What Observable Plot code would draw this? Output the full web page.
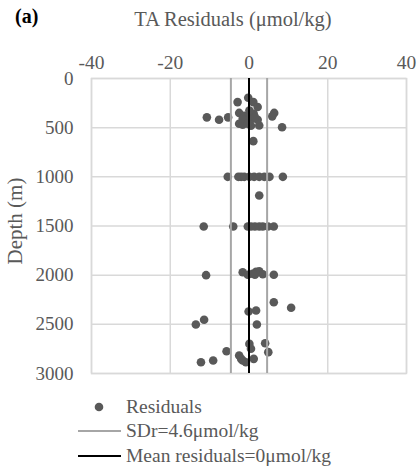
<!DOCTYPE html>
<html>
<head>
<meta charset="utf-8">
<script src="https://cdn.jsdelivr.net/npm/d3@7"></script>
<script src="https://cdn.jsdelivr.net/npm/@observablehq/plot@0.6"></script>
<style>
  html, body { margin: 0; padding: 0; background: #fff; }
  body { width: 419px; height: 471px; position: relative; overflow: hidden; font-family: 'Liberation Serif', serif; color: #595959; }
  #chart { position: absolute; left: 0; top: 0; }
  .abs { position: absolute; white-space: nowrap; font-family: 'Liberation Serif', serif; }
  #panel { left: 15px; top: 5px; font-size: 20px; font-weight: 700; color: #000; }
  #xtitle { left: 233px; top: 8px; transform: translateX(-50%); font-size: 20.5px; }
  #ytitle { left: 15px; top: 221px; transform: translate(-50%, -50%) rotate(-90deg); font-size: 21px; }
  .leg { position: absolute; left: 0; font-size: 19.5px; line-height: 1; font-family: 'Liberation Serif', serif; }
  .leg svg { position: absolute; left: 0; top: 0; }
  .leg span { position: absolute; left: 126px; white-space: nowrap; }
</style>
</head>
<body>
<div id="chart"></div>
<div class="abs" id="panel">(a)</div>
<div class="abs" id="xtitle">TA Residuals (μmol/kg)</div>
<div class="abs" id="ytitle">Depth (m)</div>
<div id="legend"></div>
<script>
// ---- data ----
const xTicks = [-40, -20, 0, 20, 40];
const yTicks = [0, 500, 1000, 1500, 2000, 2500, 3000];
const sdr = 4.6;
const meanResidual = 0;

const residual = [
  -10.7, -7.6, -5.3, -2.9, -0.2, 1.1, 2.2, -2.5, -1.2, 0.1, 1.2, 6.4, 5.9, 8.4, -2.5, -1.6, 0.5, 2.6, -0.8, 0.9, 2.2, -1.6, 1.1, -0.3, 1.5,
  -5.4, -2.7, -2.0, -1.2, 0.1, 1.3, 2.6, 3.9, 5.2, 8.6,
  2.6,
  -11.5, -4.0, -0.3, 0.5, 1.5, 2.6, 3.5, 4.8, 6.3,
  -10.9, -1.6, -0.3, 0.9, 1.8, 2.6, 3.5, 6.3, 1.5,
  6.3, 10.7, -0.1, 1.8, -11.4, -13.5, 2.0,
  -12.2, -9.1, -5.7, -2.5, -1.6, -0.8, 0.1, 0.5, 1.2, 4.1, 4.9, -2.0
];
const depth = [
  395, 420, 395, 240, 195, 240, 290, 350, 380, 325, 360, 350, 385, 495, 460, 470, 480, 478, 427, 410, 420, 410, 637, 460, 395,
  1000, 1000, 1000, 1000, 1000, 1000, 1000, 1000, 1000, 1000,
  1190,
  1505, 1505, 1505, 1505, 1505, 1505, 1505, 1505, 1505,
  2000, 1970, 1995, 1985, 1965, 1960, 1990, 1995, 1995,
  2275, 2332, 2370, 2360, 2454, 2502, 2502,
  2885, 2868, 2773, 2817, 2868, 2885, 2699, 2749, 2851, 2692, 2783, 2851
];
const points = residual.map((r, i) => ({ r, d: depth[i] }));

const gridCol = "#d9d9d9";
const sdCol = "#a6a6a6";
const dotCol = "#595959";
const fmt = d => String(d);

const chart = Plot.plot({
  width: 419,
  height: 385,
  marginTop: 78,
  marginBottom: 12,
  marginLeft: 91,
  marginRight: 13,
  style: { fontFamily: "Liberation Serif", fontSize: "19px", color: "#595959", background: "#fff" },
  x: { domain: [-40, 40] },
  y: { domain: [0, 3000], reverse: true },
  marks: [
    Plot.gridX(xTicks, { stroke: gridCol, strokeOpacity: 1, strokeWidth: 1.5 }),
    Plot.gridY(yTicks, { stroke: gridCol, strokeOpacity: 1, strokeWidth: 1.5 }),
    Plot.frame({ stroke: gridCol, strokeWidth: 1.5 }),
    Plot.dot(points, { x: "r", y: "d", r: 4.3, fill: dotCol, stroke: null }),
    Plot.ruleX([-sdr, sdr], { stroke: sdCol, strokeWidth: 2 }),
    Plot.ruleX([meanResidual], { stroke: "#000", strokeWidth: 2 }),
    Plot.axisX(xTicks, { anchor: "top", tickSize: 0, tickPadding: 10, label: null, fontSize: 19.5, tickFormat: fmt }),
    Plot.axisY(yTicks, { anchor: "left", tickSize: 0, tickPadding: 18, label: null, fontSize: 19, tickFormat: fmt })
  ]
});
document.getElementById("chart").appendChild(chart);

// ---- legend ----
const legendItems = [
  { label: "Residuals", kind: "dot", color: dotCol, y: 407 },
  { label: "SDr=" + sdr + "μmol/kg", kind: "line", color: sdCol, y: 431 },
  { label: "Mean residuals=" + meanResidual + "μmol/kg", kind: "line", color: "#000", y: 456 }
];
const legend = document.getElementById("legend");
for (const it of legendItems) {
  const row = document.createElement("div");
  row.className = "leg";
  row.style.top = (it.y - 12) + "px";
  row.style.width = "419px";
  row.style.height = "24px";
  const sw = it.kind === "dot"
    ? `<svg width="130" height="24"><circle cx="99" cy="12" r="4.3" fill="${it.color}"/></svg>`
    : `<svg width="130" height="24"><line x1="78" x2="121" y1="12" y2="12" stroke="${it.color}" stroke-width="2"/></svg>`;
  row.innerHTML = sw + `<span style="top:2px">${it.label}</span>`;
  legend.appendChild(row);
}
</script>
</body>
</html>
